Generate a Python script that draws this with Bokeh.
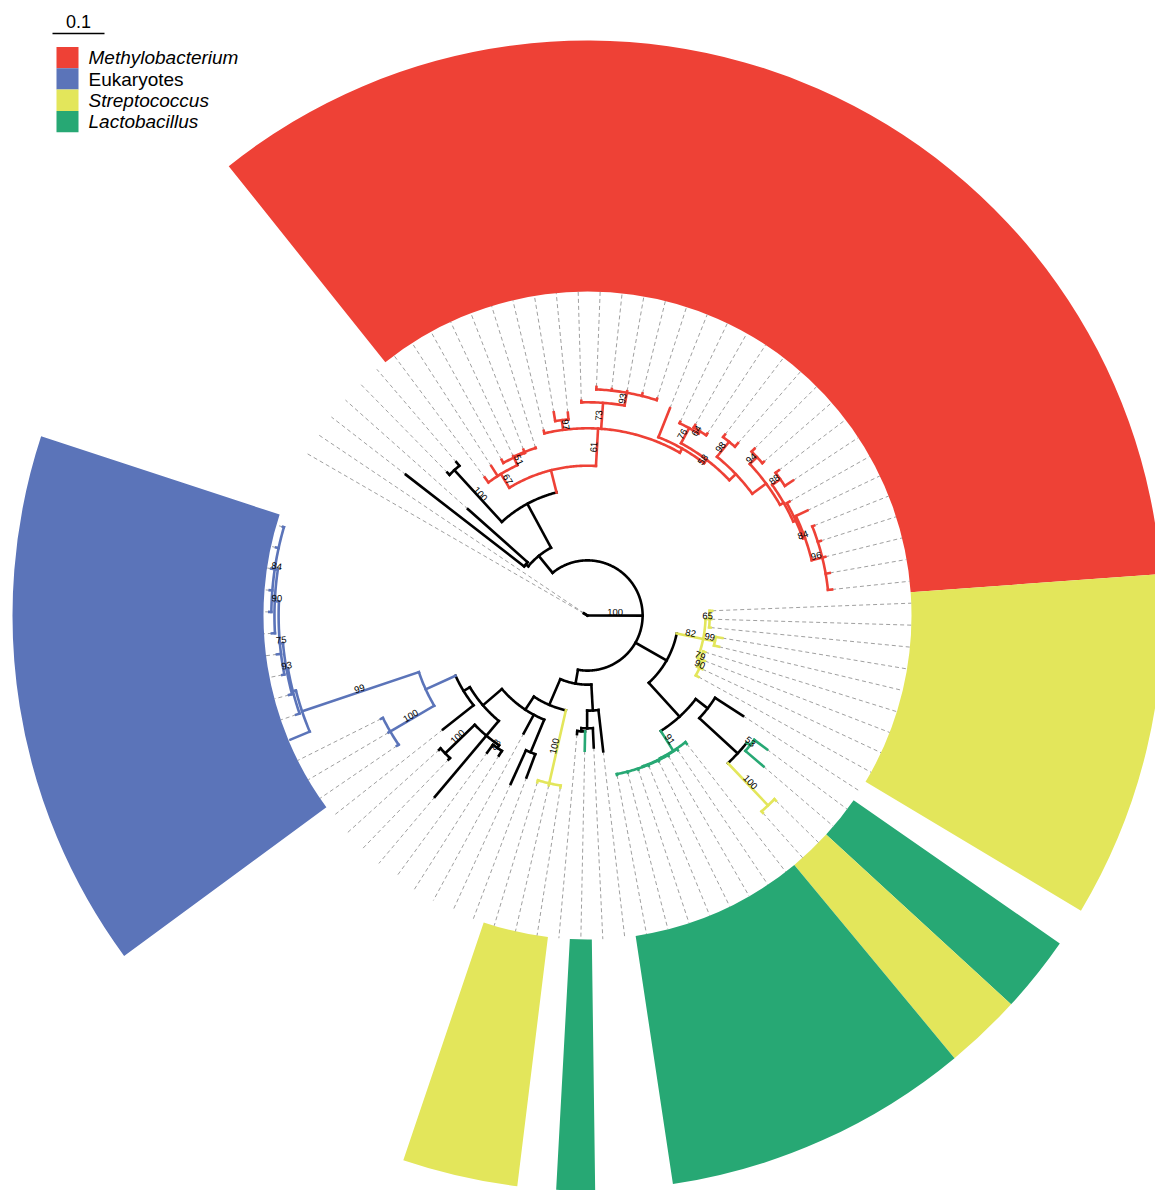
import math
from bokeh.plotting import figure
from bokeh.models import Range1d
from bokeh.embed import file_html
from bokeh.resources import INLINE
from bokeh.core.properties import value

W, H = 1155, 1190
CX, CY = 587, 615          # screen position of the root
PX = 520.0                 # pixels per tree unit (scale bar 0.1 = 52 px)
R_TIP = 324                # radius where dashed tip guides end / ranges start
R_OUT = 575                # outer radius of the coloured ranges
THETA0 = 150.0             # angle of the first tip (deg)
STEP = 3.89                # angular spacing of tips (deg)

COLORS = {"k": "#000000", "r": "#EE4136", "b": "#5B74B9", "y": "#E3E65B", "g": "#27A874"}

legend_labels = ["Methylobacterium", "Eukaryotes", "Streptococcus", "Lactobacillus"]
legend_keys = ["r", "b", "y", "g"]
legend_italic = [True, False, True, True]
scale_value = 0.1

# ---------------- internal nodes ----------------
node_name = ["root", "A", "B", "E", "C", "D", "R", "R1", "N51", "N51b", "R2", "N97", "N73", "N93",
             "L0", "L1", "N76", "N64", "L3", "N98", "L4", "N94", "L5", "N88r", "L6", "L7", "N96",
             "F", "Y", "N65", "N99y", "N79", "N90", "G2", "H", "I", "N53", "Y2", "G", "G1", "G2b",
             "J", "K", "K2", "K3", "L", "Y3", "M", "N", "Q", "V", "U", "T100", "P",
             "BL", "B100", "N99", "Bb", "Bc", "Bd", "Be", "Bf"]
node_parent = [None, "root", "A", "B", "B", "C", "C", "R", "R1", "N51", "R", "R2", "R2", "N73",
               "R2", "L0", "L1", "N76", "L1", "L3", "L3", "L4", "L4", "L5", "L5", "L6", "L7",
               "A", "F", "Y", "Y", "Y", "N79", "F", "G2", "H", "I", "I", "G2", "G", "G1",
               "A", "J", "K", "K2", "J", "L", "L", "M", "M", "Q", "V", "V", "Q",
               "P", "BL", "BL", "N99", "Bb", "Bc", "Bd", "Be"]
node_dist = [0.0, 0.106, 0.148, 0.154, 0.244, 0.379, 0.288, 0.319, 0.335, 0.337, 0.360, 0.379, 0.410, 0.435,
             0.369, 0.377, 0.410, 0.415, 0.394, 0.431, 0.427, 0.446, 0.435, 0.454, 0.440, 0.444, 0.465,
             0.175, 0.227, 0.235, 0.250, 0.233, 0.238, 0.263, 0.292, 0.392, 0.400, 0.504, 0.308, 0.309, 0.310,
             0.133, 0.183, 0.217, 0.223, 0.187, 0.331, 0.217, 0.285, 0.265, 0.302, 0.308, 0.381, 0.279,
             0.342, 0.440, 0.579, 0.585, 0.588, 0.594, 0.602, 0.608]
node_clade = ["k", "k", "k", "k", "k", "k", "r", "r", "r", "r", "r", "r", "r", "r",
              "r", "r", "r", "r", "r", "r", "r", "r", "r", "r", "r", "r", "r",
              "k", "y", "y", "y", "y", "y", "k", "k", "k", "g", "y", "g", "g", "g",
              "k", "k", "k", "k", "k", "y", "k", "k", "k", "k", "k", "k", "k",
              "b", "b", "b", "b", "b", "b", "b", "b"]
node_support = ["", "100", "", "", "", "100", "", "67", "51", "", "61", "97", "73", "93",
                "", "58", "76", "64", "", "98", "", "94", "", "88", "", "84", "96",
                "", "82", "65", "99", "79", "90", "", "", "", "53", "100", "91", "", "",
                "", "", "", "", "", "100", "", "", "", "", "88", "100", "",
                "", "100", "99", "", "93", "75", "90", "84"]

# ---------------- tips (clockwise order) ----------------
tip_parent = ["root", "root", "E", "E", "D", "D",
              "R1", "R1", "N51", "N51b", "N51b", "N51b",
              "R2", "N97", "N97", "N73", "N93", "N93", "N93", "N93", "N93",
              "L0", "N76", "N64", "N64", "N98", "N98", "N94", "N94", "N88r", "N88r", "L6", "L7",
              "N96", "N96", "N96", "N96", "N96",
              "N65", "N65", "N65", "N99y", "N99y", "N79", "N90", "N90", "N90",
              "H", "N53", "N53", "Y2", "Y2", "G", "G1", "G2b", "G2b", "G2b", "G2b", "G2b", "G2b",
              "K", "K2", "K3", "K3", "Y3", "Y3", "Y3",
              "N", "N", "M", "U", "U", "V", "T100", "T100", "P",
              "B100", "B100", "B100", "N99", "Bb", "Bc", "Bd", "Bd", "Be",
              "Bf", "Bf", "Bf", "Bf", "Bf"]
tip_dist = [0.008, 0.008, 0.442, 0.308, 0.385, 0.388,
            0.331, 0.342, 0.342, 0.338, 0.342, 0.338,
            0.365, 0.396, 0.392, 0.413, 0.440, 0.438, 0.438, 0.440, 0.438,
            0.429, 0.413, 0.421, 0.419, 0.437, 0.440, 0.454, 0.450, 0.462, 0.473, 0.446, 0.469,
            0.469, 0.471, 0.471, 0.473, 0.473,
            0.240, 0.238, 0.238, 0.263, 0.260, 0.237, 0.242, 0.244, 0.244,
            0.356, 0.431, 0.446, 0.508, 0.508, 0.312, 0.312, 0.312, 0.312, 0.312, 0.312, 0.312, 0.312,
            0.263, 0.254, 0.260, 0.229, 0.335, 0.335, 0.335,
            0.333, 0.356, 0.258, 0.319, 0.327, 0.456, 0.385, 0.385, 0.354,
            0.444, 0.444, 0.444, 0.619, 0.592, 0.594, 0.598, 0.602, 0.608,
            0.612, 0.613, 0.615, 0.613, 0.610]
tip_clade = ["k"] * 6 + ["r"] * 32 + ["y"] * 9 + \
            ["k", "g", "g", "y", "y"] + ["g"] * 8 + \
            ["k", "k", "g", "k", "y", "y", "y"] + ["k"] * 9 + ["b"] * 14

# ---------------- layout ----------------
idx = {n: i for i, n in enumerate(node_name)}
tip_angle = [THETA0 - i * STEP for i in range(len(tip_parent))]
children = {n: [] for n in node_name}
for i, par in enumerate(node_parent):
    if par is not None:
        children[par].append(("n", i))
for i, par in enumerate(tip_parent):
    children[par].append(("t", i))

node_angle = {}


def angle_of(kind, i):
    if kind == "t":
        return tip_angle[i]
    name = node_name[i]
    if name not in node_angle:
        node_angle[name] = sum(angle_of(k, j) for k, j in children[name]) / len(children[name])
    return node_angle[name]


for i in range(len(node_name)):
    angle_of("n", i)


def pol(r, th):
    t = math.radians(th)
    return r * math.cos(t), r * math.sin(t)


p = figure(width=W, height=H, x_range=Range1d(-CX, W - CX), y_range=Range1d(CY - H, CY),
           output_backend="svg", toolbar_location=None, min_border=0,
           x_axis_type=None, y_axis_type=None)
p.grid.visible = False
p.outline_line_color = None
p.background_fill_color = "white"
p.border_fill_color = "white"

# coloured ranges from runs of tips with the same clade colour
runs = []
start = None
for i, c in enumerate(tip_clade + ["k"]):
    if start is not None and (c != tip_clade[start]):
        runs.append((start, i - 1))
        start = None
    if start is None and c != "k" and i < len(tip_clade):
        start = i
for a, b in runs:
    p.annular_wedge(x=0, y=0, inner_radius=R_TIP, outer_radius=R_OUT,
                    start_angle=math.radians(tip_angle[b] - STEP / 2),
                    end_angle=math.radians(tip_angle[a] + STEP / 2),
                    direction="anticlock", fill_color=COLORS[tip_clade[a]], line_color=None)

# dashed guides from tips to the ranges
gx, gy = [], []
for i in range(len(tip_parent)):
    x0, y0 = pol(tip_dist[i] * PX, tip_angle[i])
    x1, y1 = pol(R_TIP, tip_angle[i])
    gx.append([x0, x1]); gy.append([y0, y1])
p.multi_line(gx, gy, line_color="#a0a0a0", line_width=1, line_dash="4 3")

# branches
bx, by, bc = [], [], []
for i, name in enumerate(node_name):
    par = node_parent[i]
    r = node_dist[i] * PX
    th = node_angle[name]
    col = COLORS[node_clade[i]]
    if par is not None:
        pr = node_dist[idx[par]] * PX
        a0 = pol(pr, th); a1 = pol(r, th)
        bx.append([a0[0], a1[0]]); by.append([a0[1], a1[1]]); bc.append(col)
        angs = [angle_of(k, j) for k, j in children[name]]
        lo, hi = min(angs), max(angs)
        n = max(2, int((hi - lo) / 0.5) + 1)
        pts = [pol(r, lo + (hi - lo) * s / (n - 1)) for s in range(n)]
        bx.append([q[0] for q in pts]); by.append([q[1] for q in pts]); bc.append(col)
for i, par in enumerate(tip_parent):
    pr = node_dist[idx[par]] * PX
    r = tip_dist[i] * PX
    a0 = pol(pr, tip_angle[i]); a1 = pol(r, tip_angle[i])
    bx.append([a0[0], a1[0]]); by.append([a0[1], a1[1]]); bc.append(COLORS[tip_clade[i]])
p.multi_line(bx, by, line_color=bc, line_width=2.6, line_cap="square", line_join="miter")

# support values on branches
lx, ly, lt, la = [], [], [], []
for i, name in enumerate(node_name):
    if not node_support[i] or node_parent[i] is None:
        continue
    pr = node_dist[idx[node_parent[i]]] * PX
    r = node_dist[i] * PX
    th = node_angle[name]
    x, y = pol((pr + r) / 2, th)
    rot = ((th + 180) % 360) - 180
    if rot > 90:
        rot -= 180
    elif rot <= -90:
        rot += 180
    lx.append(x); ly.append(y); lt.append(node_support[i]); la.append(math.radians(rot))
p.text(lx, ly, text=lt, angle=la, text_font=value("Liberation Sans"), text_font_size="9.5px",
       text_align="center", text_baseline="bottom", text_color="black")

# scale bar
def sc(sx, sy):
    return sx - CX, CY - sy

x0, y0 = sc(52, 33)
p.line([x0, x0 + scale_value * PX], [y0, y0], line_color="black", line_width=1.5)
tx, ty = sc(52 + scale_value * PX / 2, 27)
p.text([tx], [ty], text=[str(scale_value)], text_font=value("Liberation Sans"), text_font_size="18px",
       text_align="center", text_baseline="bottom", text_color="black")

# legend
for k, (lab, key, it) in enumerate(zip(legend_labels, legend_keys, legend_italic)):
    top = 46.5 + 21.3 * k
    l, t = sc(56, top)
    rr, b = sc(78, top + 21.3)
    p.quad(left=l, right=rr, top=t, bottom=b, fill_color=COLORS[key], line_color=None)
    tx, ty = sc(88, top + 10.8)
    p.text([tx], [ty], text=[lab], text_font=value("Liberation Sans"), text_font_size="19px",
           text_font_style="italic" if it else "normal",
           text_align="left", text_baseline="middle", text_color="black")

open("out.html", "w").write(file_html(p, INLINE))
